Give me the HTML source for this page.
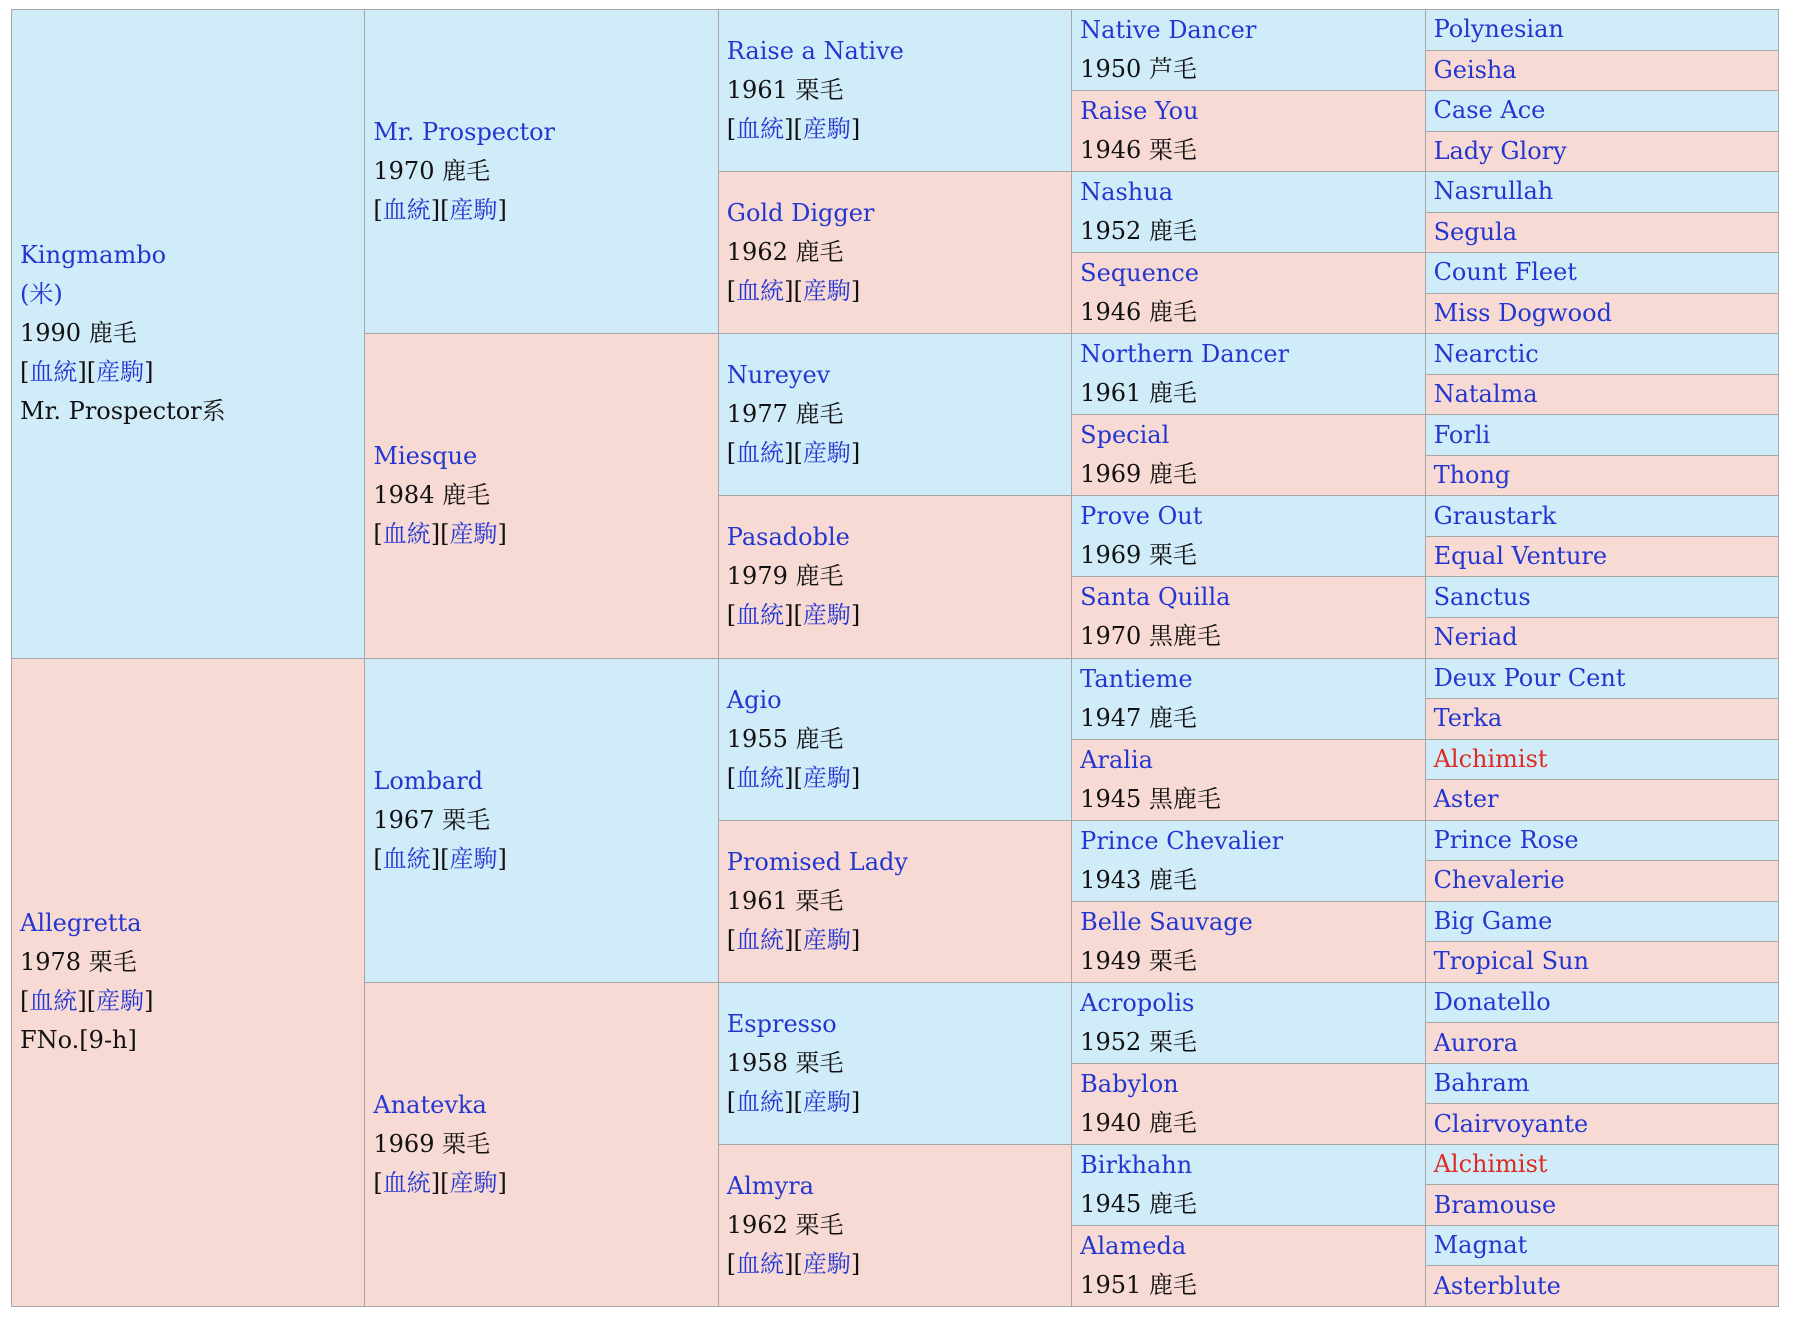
<!DOCTYPE html>
<html><head><meta charset="utf-8">
<style>
html,body{margin:0;padding:0;background:#fff;width:1798px;height:1319px;overflow:hidden}
#ped{position:absolute;left:11px;top:9px;width:1768px;height:1297px;border-collapse:collapse;table-layout:fixed;
font-family:"DejaVu Serif","Noto Serif CJK SC","Noto Sans CJK JP",serif;font-size:24px;line-height:39px;color:#111}
#ped td{border:1.5px solid #a6a6a6;padding:0 0 0 8px;vertical-align:middle;overflow:hidden;white-space:nowrap}
#ped td.m{background:#d1ecf9}
#ped td.f{background:#f8dad5}
a{color:#2436d0;text-decoration:none}
a.r{color:#dd2a22}
</style></head><body>
<table id="ped"><tbody id="tb"></tbody></table>
<script>
const gen1=[["Kingmambo","(米)","1990 鹿毛","Mr. Prospector系"],["Allegretta","","1978 栗毛","FNo.[9-h]"]];
const gen2=[["Mr. Prospector","1970 鹿毛"],["Miesque","1984 鹿毛"],["Lombard","1967 栗毛"],["Anatevka","1969 栗毛"]];
const gen3=[["Raise a Native","1961 栗毛"],["Gold Digger","1962 鹿毛"],["Nureyev","1977 鹿毛"],["Pasadoble","1979 鹿毛"],["Agio","1955 鹿毛"],["Promised Lady","1961 栗毛"],["Espresso","1958 栗毛"],["Almyra","1962 栗毛"]];
const gen4=[["Native Dancer","1950 芦毛"],["Raise You","1946 栗毛"],["Nashua","1952 鹿毛"],["Sequence","1946 鹿毛"],["Northern Dancer","1961 鹿毛"],["Special","1969 鹿毛"],["Prove Out","1969 栗毛"],["Santa Quilla","1970 黒鹿毛"],["Tantieme","1947 鹿毛"],["Aralia","1945 黒鹿毛"],["Prince Chevalier","1943 鹿毛"],["Belle Sauvage","1949 栗毛"],["Acropolis","1952 栗毛"],["Babylon","1940 鹿毛"],["Birkhahn","1945 鹿毛"],["Alameda","1951 鹿毛"]];
const gen5=["Polynesian","Geisha","Case Ace","Lady Glory","Nasrullah","Segula","Count Fleet","Miss Dogwood","Nearctic","Natalma","Forli","Thong","Graustark","Equal Venture","Sanctus","Neriad","Deux Pour Cent","Terka","Alchimist","Aster","Prince Rose","Chevalerie","Big Game","Tropical Sun","Donatello","Aurora","Bahram","Clairvoyante","Alchimist","Bramouse","Magnat","Asterblute"];
const redNames=[18,28];
const links='[<a>血統</a>][<a>産駒</a>]';
const tb=document.getElementById('tb');
const rowH=1297/32;
for(let r=0;r<32;r++){
  const tr=document.createElement('tr');
  tr.style.height=rowH+'px';
  if(r%16===0){const i=r/16;const g=gen1[i];const td=document.createElement('td');td.rowSpan=16;td.className=i?'f':'m';
    td.innerHTML='<a>'+g[0]+'</a><br>'+(g[1]?'<a>'+g[1]+'</a><br>':'')+g[2]+'<br>'+links+'<br>'+g[3];
    
    
    tr.appendChild(td);}
  if(r%8===0){const i=r/8;const g=gen2[i];const td=document.createElement('td');td.rowSpan=8;td.className=i%2?'f':'m';
    td.innerHTML='<a>'+g[0]+'</a><br>'+g[1]+'<br>'+links;
    
    
    tr.appendChild(td);}
  if(r%4===0){const i=r/4;const g=gen3[i];const td=document.createElement('td');td.rowSpan=4;td.className=i%2?'f':'m';
    td.innerHTML='<a>'+g[0]+'</a><br>'+g[1]+'<br>'+links;
    
    
    tr.appendChild(td);}
  if(r%2===0){const i=r/2;const g=gen4[i];const td=document.createElement('td');td.rowSpan=2;td.className=i%2?'f':'m';
    td.innerHTML='<a>'+g[0]+'</a><br>'+g[1];
    
    
    tr.appendChild(td);}
  const td=document.createElement('td');td.className=r%2?'f':'m';
  td.innerHTML='<a'+(redNames.includes(r)?' class="r"':'')+'>'+gen5[r]+'</a>';
  
  
  tr.appendChild(td);
  tb.appendChild(tr);
}
document.querySelectorAll('a').forEach(a=>{
  
  
});
</script>
</body></html>
